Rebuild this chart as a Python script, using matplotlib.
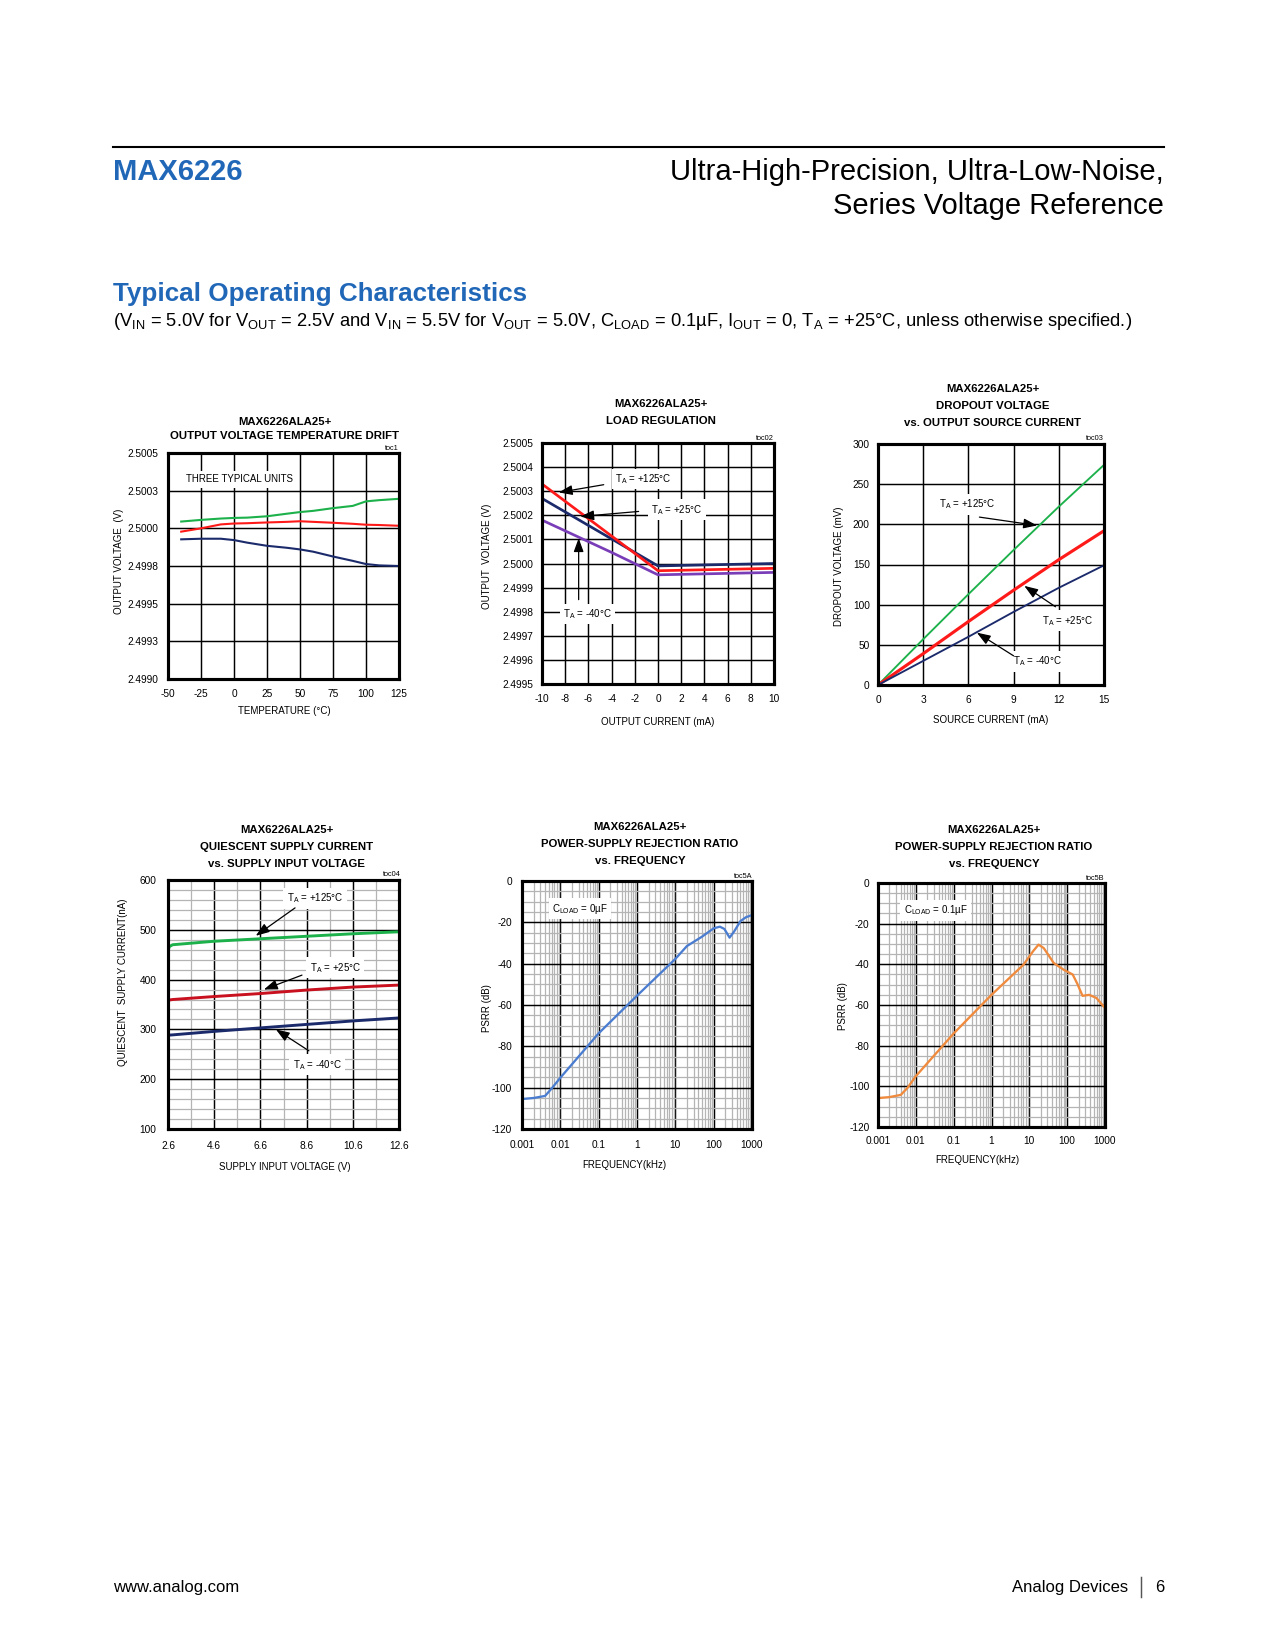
import matplotlib
matplotlib.use('Agg')
import matplotlib.pyplot as plt
from matplotlib import font_manager as fm
from matplotlib.lines import Line2D
from matplotlib.ticker import FixedLocator, LogLocator, NullFormatter

# ---------------- data ----------------
# toc1: output voltage temperature drift (three units)
temp_c = [-40, -25, -10, 0, 10, 25, 40, 50, 60, 75, 90, 100, 110, 125]
drift_unit_a = [2.500045, 2.500056, 2.500065, 2.500069, 2.500071, 2.500080, 2.500097,
                2.500108, 2.500116, 2.500134, 2.500149, 2.500179, 2.500187, 2.500196]
drift_unit_b = [2.499978, 2.500000, 2.500026, 2.500032, 2.500034, 2.500039, 2.500043,
                2.500047, 2.500043, 2.500037, 2.500030, 2.500024, 2.500022, 2.500017]
drift_unit_c = [2.499927, 2.499931, 2.499931, 2.499922, 2.499905, 2.499884, 2.499871,
                2.499860, 2.499845, 2.499813, 2.499784, 2.499763, 2.499754, 2.499750]
drift_yticks = [2.4990, 2.49925, 2.4995, 2.49975, 2.5000, 2.50025, 2.5005]
drift_ylabels = ['2.4990', '2.4993', '2.4995', '2.4998', '2.5000', '2.5003', '2.5005']
drift_xticks = [-50, -25, 0, 25, 50, 75, 100, 125]

# toc02: load regulation
load_ma = [-10, -4, 0, 10]
load_t125 = [2.50033, 2.500114, 2.49997, 2.49998]
load_t25 = [2.50027, 2.500102, 2.49999, 2.50000]
load_tm40 = [2.50018, 2.500046, 2.499953, 2.499963]
load_xticks = [-10, -8, -6, -4, -2, 0, 2, 4, 6, 8, 10]
load_yticks = [2.4995, 2.4996, 2.4997, 2.4998, 2.4999, 2.5000, 2.5001, 2.5002, 2.5003, 2.5004, 2.5005]

# toc03: dropout voltage vs source current
src_ma = [0, 3, 6, 9, 12, 15]
drop_t125 = [0, 57, 113, 168, 222, 274]
drop_t25 = [0, 39, 79, 118, 156, 192]
drop_tm40 = [0, 30, 60, 91, 121, 149]
drop_xticks = [0, 3, 6, 9, 12, 15]
drop_yticks = [0, 50, 100, 150, 200, 250, 300]

# toc04: quiescent current vs supply voltage
vin_v = [2.6, 2.65, 2.8, 4.6, 6.6, 8.6, 10.6, 12.6]
iq_t125 = [456, 466, 470, 477, 482, 487, 492, 496]
iq_t25 = [358, 359, 360, 366, 372, 379, 385, 389]
iq_tm40 = [288, 288.5, 289, 296, 303, 310, 317, 323]
iq_xticks = [2.6, 4.6, 6.6, 8.6, 10.6, 12.6]
iq_yticks = [100, 200, 300, 400, 500, 600]

# toc5A / toc5B: PSRR vs frequency
psrr_freq_a = [0.001, 0.002, 0.004, 0.006, 0.01, 0.1, 1, 10, 20, 50, 100, 145, 190, 260, 340, 500, 700, 1000]
psrr_db_a = [-105.5, -105, -104, -100.3, -95.2, -73.7, -55.5, -37.7, -31.5, -26.9, -22.9, -22.1,
             -23.2, -27.4, -24.5, -19.4, -17.5, -16.5]
psrr_freq_b = [0.001, 0.002, 0.004, 0.006, 0.01, 0.1, 1, 7, 12.5, 17.5, 24, 44, 80, 140, 185, 255, 380, 590, 1000]
psrr_db_b = [-105.8, -105.3, -104.2, -100.8, -95, -74, -55, -40.2, -33.6, -30.3, -32, -39.3, -42.6,
             -45, -49.5, -55.5, -55, -56.5, -61.5]
freq_ticks = [0.001, 0.01, 0.1, 1, 10, 100, 1000]
freq_labels = ['0.001', '0.01', '0.1', '1', '10', '100', '1000']
psrr_yticks = [0, -20, -40, -60, -80, -100, -120]

# ---------------- fonts ----------------
names = {f.name for f in fm.fontManager.ttflist}
if 'Liberation Sans Narrow' in names:
    NARROW = 'Liberation Sans Narrow'
    scale = 1.0
else:
    NARROW = 'Liberation Sans'
    scale = 0.84
WIDE = 'Liberation Sans'
plt.rcParams['font.family'] = [WIDE, 'DejaVu Sans']
plt.rcParams['mathtext.fontset'] = 'custom'
plt.rcParams['mathtext.rm'] = WIDE
plt.rcParams['mathtext.it'] = WIDE + ':italic'
plt.rcParams['mathtext.bf'] = WIDE + ':bold'
plt.rcParams['axes.unicode_minus'] = False

FS_TICK = 5.8 * scale
FS_TITLE = 6.5 * scale
FS_LAB = 5.6 * scale
FS_ANN = 5.6 * scale
FS_TOC = 4.2 * scale

BLUE = '#2067B8'
GREEN = '#1DB14B'
RED = '#FF1A1A'
NAVY = '#1B2A6B'
PURPLE = '#7A3DB8'
DRED = '#C8101E'
LBLUE = '#4A7CD0'
ORANGE = '#F08A3C'

W, H = 1275, 1650
fig = plt.figure(figsize=(W / 150, H / 150), dpi=150)


def ftext(x, y, s, **kw):
    return fig.text(x / W, 1 - y / H, s, **kw)


def make_ax(l, r, t, b):
    ax = fig.add_axes([l / W, 1 - b / H, (r - l) / W, (b - t) / H])
    for sp in ax.spines.values():
        sp.set_linewidth(1.5)
        sp.set_zorder(6)
    ax.set_axisbelow(True)
    ax.tick_params(which='both', length=0, labelsize=FS_TICK)
    return ax


def set_font(ax):
    for lab in ax.get_xticklabels() + ax.get_yticklabels():
        lab.set_fontfamily(NARROW)
        lab.set_fontsize(FS_TICK)


def titles(lines, cx, ys, toc, tx, ty):
    for s, y in zip(lines, ys):
        ftext(cx, y, s, ha='center', va='center', fontsize=FS_TITLE, fontweight='bold', family=NARROW)
    ftext(tx, ty, toc, ha='right', va='center', fontsize=FS_TOC, family=NARROW)


def labels(xl, xx, xy, yl, yx, yy):
    ftext(xx, xy, xl, ha='center', va='center', fontsize=FS_LAB, family=NARROW)
    ftext(yx, yy, yl, ha='center', va='center', fontsize=FS_LAB, family=NARROW, rotation=90)


def ann(ax, s, x, y, ha='center'):
    ax.text(x, y, s, ha=ha, va='center', fontsize=FS_ANN, family=NARROW, zorder=3,
            bbox=dict(boxstyle='square,pad=0.35', fc='white', ec='none'))


def arrow(ax, tail, tip):
    ax.annotate('', xy=tip, xytext=tail, zorder=7,
                arrowprops=dict(arrowstyle='-|>,head_length=0.55,head_width=0.2', color='black',
                                lw=0.6, shrinkA=0, shrinkB=0, mutation_scale=10))


# ---------------- page header ----------------
fig.add_artist(Line2D([113 / W, 1164 / W], [1 - 146.5 / H] * 2, color='black', lw=1.0))
ftext(113, 180, 'MAX6226', ha='left', va='baseline', fontsize=14, fontweight='bold', color=BLUE)
ftext(1164, 179.5, 'Ultra-High-Precision, Ultra-Low-Noise,', ha='right', va='baseline', fontsize=14)
ftext(1164, 214, 'Series Voltage Reference', ha='right', va='baseline', fontsize=14)
ftext(113, 301, 'Typical Operating Characteristics', ha='left', va='baseline', fontsize=12.5,
      fontweight='bold', color=BLUE)
ftext(113, 326, r'(V$_{\mathrm{IN}}$ = 5.0V for V$_{\mathrm{OUT}}$ = 2.5V and V$_{\mathrm{IN}}$ = 5.5V for '
      r'V$_{\mathrm{OUT}}$ = 5.0V, C$_{\mathrm{LOAD}}$ = 0.1µF, I$_{\mathrm{OUT}}$ = 0, '
      r'T$_{\mathrm{A}}$ = +25°C, unless otherwise specified.)', ha='left', va='baseline', fontsize=8.85)

# footer
ftext(113, 1592, 'www.analog.com', ha='left', va='baseline', fontsize=8)
ftext(1128, 1592, 'Analog Devices', ha='right', va='baseline', fontsize=8)
fig.add_artist(Line2D([1141 / W, 1141 / W], [1 - 1577 / H, 1 - 1597 / H], color='#555555', lw=0.7))
ftext(1164, 1592, '6', ha='right', va='baseline', fontsize=8)

TA = r'T$_{\mathrm{A}}$'

# ---------------- toc1 ----------------
ax1 = make_ax(168, 399, 453, 679)
ax1.plot(temp_c, drift_unit_a, color=GREEN, lw=1.0, zorder=4)
ax1.plot(temp_c, drift_unit_b, color=RED, lw=1.0, zorder=4)
ax1.plot(temp_c, drift_unit_c, color=NAVY, lw=1.0, zorder=4)
ax1.set_xlim(-50, 125)
ax1.set_ylim(2.4990, 2.5005)
ax1.set_xticks(drift_xticks)
ax1.set_yticks(drift_yticks)
ax1.set_yticklabels(drift_ylabels)
ax1.grid(True, color='black', lw=0.7)
ax1.tick_params(axis='x', pad=4.6)
ax1.tick_params(axis='y', pad=4.6)
set_font(ax1)
ann(ax1, 'THREE TYPICAL UNITS', -36, 2.500325, ha='left')
titles(['MAX6226ALA25+', 'OUTPUT VOLTAGE TEMPERATURE DRIFT'], 285, [422, 436], 'toc1', 399, 448)
labels('TEMPERATURE (°C)', 284, 711, 'OUTPUT VOLTAGE  (V)', 119, 561)

# ---------------- toc02 ----------------
ax2 = make_ax(542, 774, 443, 684)
ax2.plot(load_ma, load_tm40, color=PURPLE, lw=1.3, zorder=4)
ax2.plot(load_ma, load_t25, color=NAVY, lw=1.3, zorder=4)
ax2.plot(load_ma, load_t125, color=RED, lw=1.3, zorder=4)
ax2.set_xlim(-10, 10)
ax2.set_ylim(2.4995, 2.5005)
ax2.set_xticks(load_xticks)
ax2.set_yticks(load_yticks)
ax2.set_yticklabels(['%.4f' % v for v in load_yticks])
ax2.grid(True, color='black', lw=0.7)
ax2.tick_params(axis='x', pad=5.0)
ax2.tick_params(axis='y', pad=4.2)
set_font(ax2)
ann(ax2, TA + ' = +125°C', -1.24, 2.50035)
ann(ax2, TA + ' = +25°C', 1.64, 2.500223)
ann(ax2, TA + ' = -40°C', -6.06, 2.49979)
arrow(ax2, (-4.68, 2.500327), (-8.56, 2.500295))
arrow(ax2, (-1.67, 2.500216), (-6.70, 2.500195))
arrow(ax2, (-6.84, 2.49985), (-6.84, 2.500105))
titles(['MAX6226ALA25+', 'LOAD REGULATION'], 661, [404, 421], 'toc02', 774, 438)
labels('OUTPUT CURRENT (mA)', 658, 722, 'OUTPUT  VOLTAGE (V)', 487, 556)

# ---------------- toc03 ----------------
ax3 = make_ax(878, 1104, 444, 685)
ax3.plot(src_ma, drop_t125, color=GREEN, lw=0.9, zorder=4)
ax3.plot(src_ma, drop_t25, color=RED, lw=1.5, zorder=4)
ax3.plot(src_ma, drop_tm40, color=NAVY, lw=0.9, zorder=4)
ax3.set_xlim(0, 15)
ax3.set_ylim(0, 300)
ax3.set_xticks(drop_xticks)
ax3.set_yticks(drop_yticks)
ax3.grid(True, color='black', lw=0.7)
ax3.tick_params(axis='x', pad=4.8)
ax3.tick_params(axis='y', pad=4.0)
set_font(ax3)
ann(ax3, TA + ' = +125°C', 5.9, 224.6)
ann(ax3, TA + ' = +25°C', 12.55, 80)
ann(ax3, TA + ' = -40°C', 10.56, 29.3)
arrow(ax3, (6.73, 209), (10.56, 198.6))
arrow(ax3, (11.78, 97.4), (9.71, 123.4))
arrow(ax3, (9.0, 36.3), (6.56, 65.2))
titles(['MAX6226ALA25+', 'DROPOUT VOLTAGE', 'vs. OUTPUT SOURCE CURRENT'], 993, [389, 406, 423],
       'toc03', 1104, 438)
labels('SOURCE CURRENT (mA)', 991, 720, 'DROPOUT VOLTAGE (mV)', 839, 566)

# ---------------- toc04 ----------------
ax4 = make_ax(168, 399, 880, 1129)
ax4.plot(vin_v, iq_t125, color=GREEN, lw=1.4, zorder=4)
ax4.plot(vin_v, iq_t25, color=DRED, lw=1.4, zorder=4)
ax4.plot(vin_v, iq_tm40, color=NAVY, lw=1.4, zorder=4)
ax4.set_xlim(2.6, 12.6)
ax4.set_ylim(100, 600)
ax4.set_xticks(iq_xticks)
ax4.set_yticks(iq_yticks)
ax4.xaxis.set_minor_locator(FixedLocator([v + 1.0 for v in iq_xticks[:-1]]))
ax4.yaxis.set_minor_locator(FixedLocator([v for v in range(100, 601, 20) if v % 100]))
ax4.grid(True, which='minor', color='#b4b4b4', lw=0.6)
ax4.grid(True, which='major', color='black', lw=0.7)
ax4.tick_params(axis='x', pad=5.8)
ax4.tick_params(axis='y', pad=5.6)
set_font(ax4)
ann(ax4, TA + ' = +125°C', 8.97, 563)
ann(ax4, TA + ' = +25°C', 9.85, 424)
ann(ax4, TA + ' = -40°C', 9.05, 229)
arrow(ax4, (8.1, 544), (6.4, 488))
arrow(ax4, (8.4, 409), (6.75, 380))
arrow(ax4, (8.7, 257), (7.27, 300))
titles(['MAX6226ALA25+', 'QUIESCENT SUPPLY CURRENT', 'vs. SUPPLY INPUT VOLTAGE'], 287, [830, 847, 864],
       'toc04', 401, 874)
labels('SUPPLY INPUT VOLTAGE (V)', 285, 1167, 'QUIESCENT  SUPPLY CURRENT(nA)', 123, 982)


# ---------------- toc5A / toc5B ----------------
def psrr_axes(l, r, t, b, freq, db, color, label, padx, pady):
    ax = make_ax(l, r, t, b)
    ax.semilogx(freq, db, color=color, lw=1.1, zorder=4)
    ax.set_xlim(0.001, 1000)
    ax.set_ylim(-120, 0)
    ax.set_xticks(freq_ticks)
    ax.set_xticklabels(freq_labels)
    ax.xaxis.set_minor_locator(LogLocator(base=10, subs=[2, 3, 4, 5, 6, 7, 8, 9], numticks=20))
    ax.xaxis.set_minor_formatter(NullFormatter())
    ax.set_yticks(psrr_yticks)
    ax.set_yticklabels([str(v) for v in psrr_yticks])
    ax.yaxis.set_minor_locator(FixedLocator([v for v in range(-120, 1, 5) if v % 20]))
    ax.grid(True, which='minor', color='#b4b4b4', lw=0.6)
    ax.grid(True, which='major', color='black', lw=0.7)
    ax.tick_params(axis='x', which='both', pad=padx)
    ax.tick_params(axis='y', which='both', pad=pady)
    set_font(ax)
    ann(ax, label, 0.033, -13.5)
    return ax


ax5 = psrr_axes(522, 752, 881, 1129, psrr_freq_a, psrr_db_a, LBLUE, r'C$_{\mathrm{LOAD}}$ = 0µF', 5.3, 4.8)
titles(['MAX6226ALA25+', 'POWER-SUPPLY REJECTION RATIO', 'vs. FREQUENCY'], 640, [827, 844, 861],
       'toc5A', 752, 877)
labels('FREQUENCY(kHz)', 624, 1165, 'PSRR (dB)', 487, 1008)

ax6 = psrr_axes(878, 1105, 883, 1127, psrr_freq_b, psrr_db_b, ORANGE, r'C$_{\mathrm{LOAD}}$ = 0.1µF', 4.2, 4.1)
titles(['MAX6226ALA25+', 'POWER-SUPPLY REJECTION RATIO', 'vs. FREQUENCY'], 994, [830, 847, 864],
       'toc5B', 1105, 878)
labels('FREQUENCY(kHz)', 977, 1160, 'PSRR (dB)', 843, 1006)

fig.savefig('out.png', dpi=150, facecolor='white')
